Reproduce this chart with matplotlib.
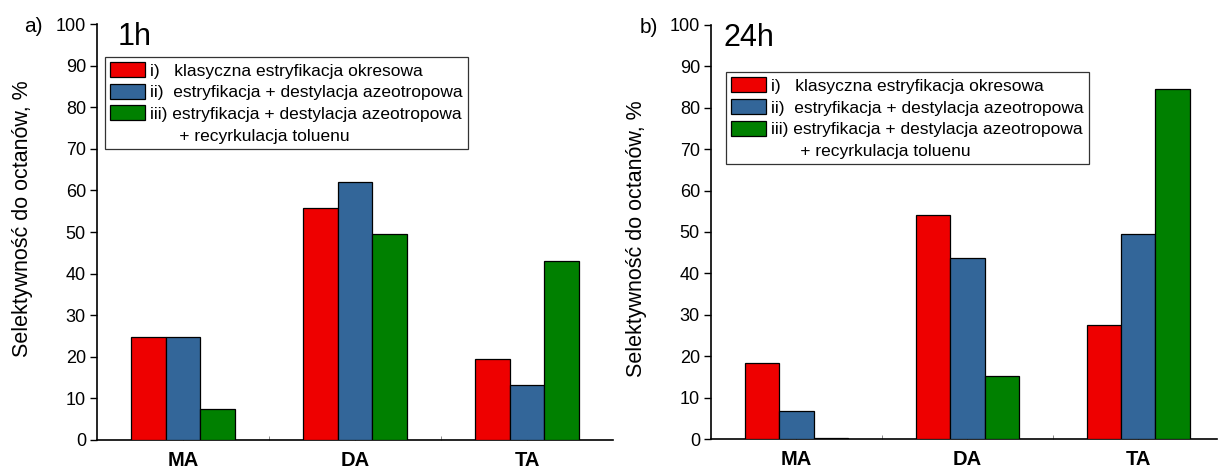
import matplotlib.pyplot as plt
from matplotlib.patches import Patch
import numpy as np

plt.rcParams['font.family'] = ['Liberation Sans', 'DejaVu Sans']

categories = ['MA', 'DA', 'TA']
series_labels = ['i)   klasyczna estryfikacja okresowa',
                 'ii)  estryfikacja + destylacja azeotropowa',
                 'iii) estryfikacja + destylacja azeotropowa']
extra_label = '      + recyrkulacja toluenu'
colors = ['#ee0000', '#336699', '#008000']

# selectivity, %
sel_1h_i = [24.7, 55.8, 19.5]
sel_1h_ii = [24.8, 61.9, 13.2]
sel_1h_iii = [7.4, 49.5, 43.0]

sel_24h_i = [18.4, 54.1, 27.5]
sel_24h_ii = [6.8, 43.8, 49.4]
sel_24h_iii = [0.3, 15.1, 84.6]

W, H = 1218, 470
fig = plt.figure(figsize=(W / 100, H / 100), dpi=100)


def px_axes(x0, x1, ytop, ybot):
    return fig.add_axes([x0 / W, (H - ybot) / H, (x1 - x0) / W, (ybot - ytop) / H])


def draw_panel(ax, data, tag, title, title_x, leg_xy, xmax, ylab_y):
    x = np.arange(len(categories))
    bw = 0.2
    for k, vals in enumerate(data):
        ax.bar(x + (k - 1) * bw, vals, width=bw, color=colors[k],
               edgecolor='black', linewidth=0.9, zorder=3)
    ax.set_xlim(-0.5, xmax)
    ax.set_ylim(0, 100)
    ax.set_yticks(np.arange(0, 101, 10))
    ax.set_xticks(x)
    ax.set_xticklabels(categories, fontsize=14.5, fontweight='bold')
    ax.set_xticks([0.5, 1.5], minor=True)
    ax.tick_params(axis='x', which='both', direction='in', length=3,
                   width=0.6, color='#777777', pad=8)
    ax.tick_params(axis='y', direction='out', length=5, width=1,
                   labelsize=13, pad=3)
    for s in ['top', 'right']:
        ax.spines[s].set_visible(False)
    for s in ['left', 'bottom']:
        ax.spines[s].set_linewidth(1.2)
    ax.set_ylabel('Selektywność do octanów, %', fontsize=15.5, labelpad=16,
                  y=ylab_y)
    ax.text(title_x, 1.005, title, transform=ax.transAxes, fontsize=22,
            va='top', ha='left')
    ax.text(-0.105, 0.995, tag, transform=ax.transAxes, fontsize=15,
            va='center', ha='right')

    handles = [Patch(facecolor=c, edgecolor='black', linewidth=0.9) for c in colors]
    handles.append(Patch(facecolor='none', edgecolor='none'))
    leg = ax.legend(handles, series_labels + [extra_label],
                    loc='upper left', bbox_to_anchor=leg_xy, fontsize=12.5,
                    frameon=True, fancybox=False, edgecolor='black',
                    handlelength=2.0, handleheight=0.95, handletextpad=0.3,
                    labelspacing=0.3, borderpad=0.3, borderaxespad=0)
    leg.get_frame().set_linewidth(0.9)


ax1 = px_axes(97, 613, 24, 440)
draw_panel(ax1, [sel_1h_i, sel_1h_ii, sel_1h_iii], 'a)', '1h', 0.04,
           (0.015, 0.921), 2.5, 0.531)

ax2 = px_axes(711, 1217, 25, 439)
draw_panel(ax2, [sel_24h_i, sel_24h_ii, sel_24h_iii], 'b)', '24h', 0.025,
           (0.029, 0.886), 2.46, 0.485)

fig.savefig('out.png', dpi=100)
